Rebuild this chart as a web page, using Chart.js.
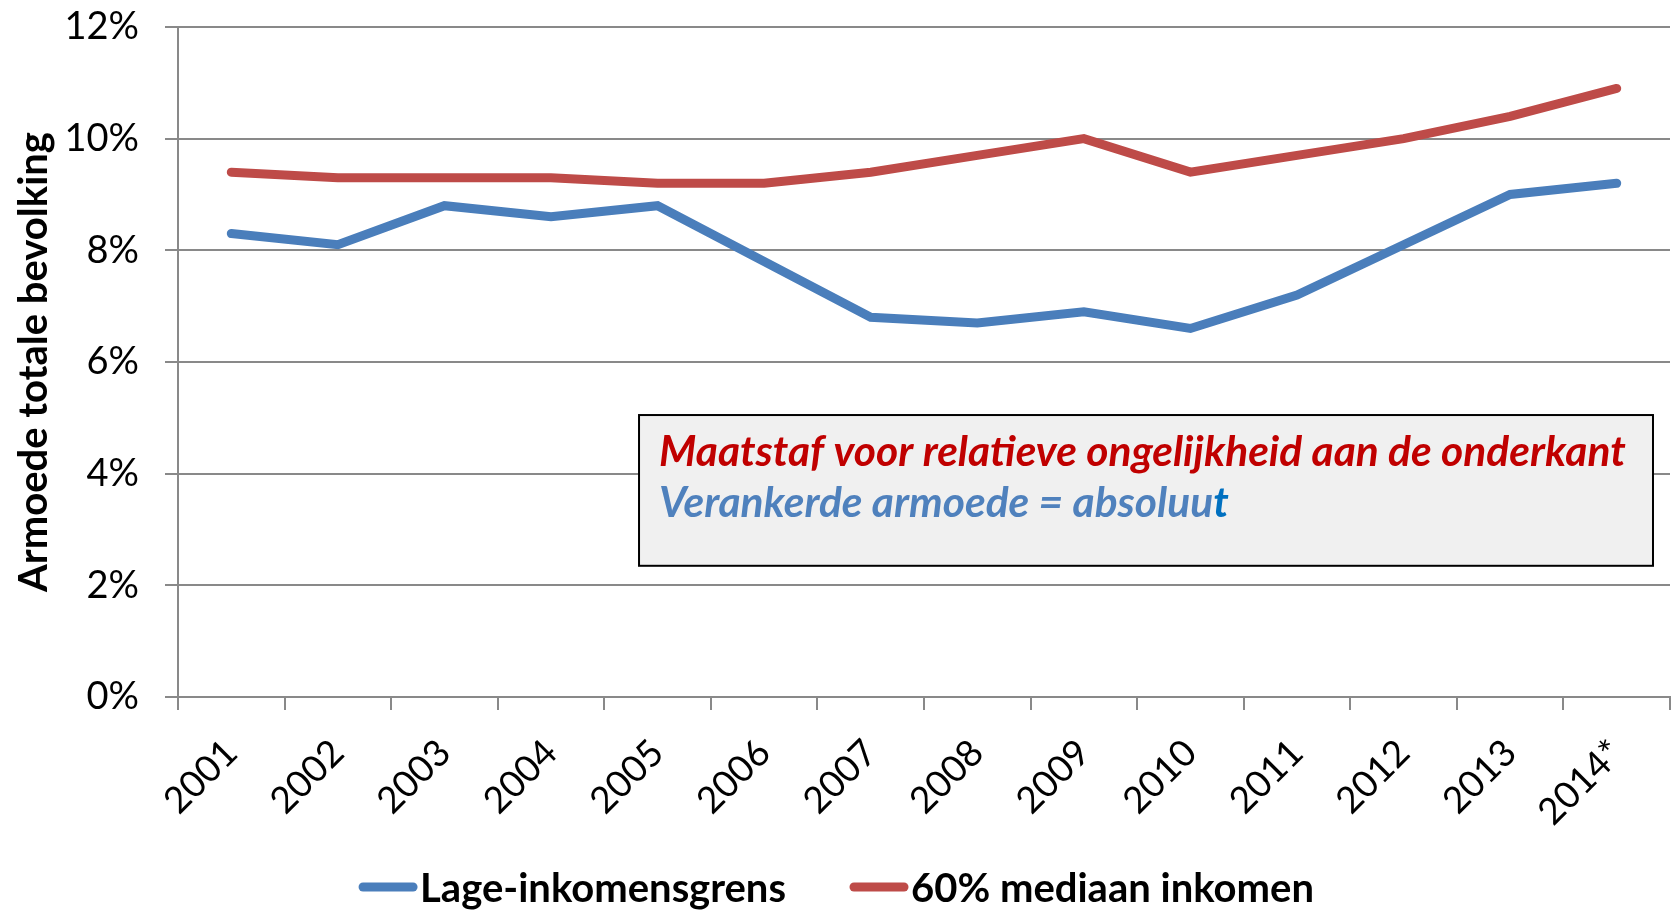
<!DOCTYPE html>
<html>
<head>
<meta charset="utf-8">
<script src="https://cdn.jsdelivr.net/npm/chart.js@4.4.0/dist/chart.umd.min.js"></script>
<style>
    html, body { margin: 0; padding: 0; background: #fff; }
    #wrap { width: 1673px; height: 911px; }
</style>
</head>
<body>
<div id="wrap"><canvas id="armoedeChart" width="1673" height="911"></canvas></div>
<script>
const years = ['2001', '2002', '2003', '2004', '2005', '2006', '2007', '2008', '2009', '2010', '2011', '2012', '2013', '2014*'];
const lageInkomensgrens = [8.3, 8.1, 8.8, 8.6, 8.8, 7.8, 6.8, 6.7, 6.9, 6.6, 7.2, 8.1, 9.0, 9.2];
const mediaanInkomen60 = [9.4, 9.3, 9.3, 9.3, 9.2, 9.2, 9.4, 9.7, 10.0, 9.4, 9.7, 10.0, 10.4, 10.9];
const seriesNames = ['Lage-inkomensgrens', '60% mediaan inkomen'];
const yMin = 0, yMax = 12, yStep = 2;
const axisTitle = 'Armoede totale bevolking';
const noteRed = 'Maatstaf voor relatieve ongelijkheid aan de onderkant';
const noteBlue = 'Verankerde armoede = absoluu';
const noteBlueEnd = 't';

const FONT = 'Lato';
const gridGrey = '#898989';

// grey box with the two coloured lines of explanation
const noteBox = {
    id: 'noteBox',
    afterDatasetsDraw(chart) {
        const { ctx, chartArea: a, scales: { y } } = chart;
        const left = a.left + a.width * 0.309;
        const right = a.left + a.width * 0.9886;
        const top = y.getPixelForValue(5.05);
        const bottom = y.getPixelForValue(2.35);
        ctx.save();
        ctx.fillStyle = '#f0f0f0';
        ctx.fillRect(left, top, right - left, bottom - top);
        ctx.strokeStyle = '#000';
        ctx.lineWidth = 2;
        ctx.strokeRect(left, top, right - left, bottom - top);

        ctx.font = 'italic bold 42.5px ' + FONT;
        ctx.textBaseline = 'middle';
        ctx.fillStyle = '#C00000';
        ctx.fillText(noteRed, left + 20, top + 37);
        ctx.fillStyle = '#4F81BD';
        ctx.fillText(noteBlue, left + 20, top + 88);
        const w = ctx.measureText(noteBlue).width;
        ctx.fillStyle = '#0070C0';
        ctx.fillText(noteBlueEnd, left + 20 + w, top + 88);
        ctx.restore();
    }
};

// legend at the bottom: short line followed directly by the label
const lineLegend = {
    id: 'lineLegend',
    afterDraw(chart) {
        const ctx = chart.ctx;
        const sets = chart.data.datasets;
        const lineLen = 58, gap = 3, spacing = 64, y = 887;
        ctx.save();
        ctx.font = 'bold 40px ' + FONT;
        ctx.textBaseline = 'middle';
        const widths = sets.map(ds => ctx.measureText(ds.label).width);
        const total = widths.reduce((s, w) => s + lineLen + gap + w, 0) + spacing * (sets.length - 1);
        let x = (chart.width - total) / 2;
        sets.forEach((ds, i) => {
            ctx.strokeStyle = ds.borderColor;
            ctx.lineWidth = 9;
            ctx.lineCap = 'round';
            ctx.beginPath();
            ctx.moveTo(x + 4, y);
            ctx.lineTo(x + lineLen - 4, y);
            ctx.stroke();
            x += lineLen + gap;
            ctx.fillStyle = '#000';
            ctx.fillText(ds.label, x, y + 2);
            x += widths[i] + spacing;
        });
        ctx.restore();
    }
};

new Chart(document.getElementById('armoedeChart'), {
    type: 'line',
    data: {
        labels: years,
        datasets: [{
            label: seriesNames[0],
            data: lageInkomensgrens,
            borderColor: '#4A7EBB',
            borderWidth: 9,
            borderCapStyle: 'round',
            pointRadius: 0,
            tension: 0
        }, {
            label: seriesNames[1],
            data: mediaanInkomen60,
            borderColor: '#BE4B48',
            borderWidth: 9,
            borderCapStyle: 'round',
            pointRadius: 0,
            tension: 0
        }]
    },
    options: {
        responsive: false,
        animation: false,
        layout: {
            padding: { top: 27, right: 3, left: 0, bottom: 0 }
        },
        plugins: {
            legend: { display: false },
            tooltip: { enabled: false }
        },
        scales: {
            x: {
                offset: true,
                grid: {
                    offset: true,
                    drawOnChartArea: false,
                    drawTicks: true,
                    tickLength: 13,
                    color: gridGrey,
                    lineWidth: 2
                },
                border: { color: gridGrey, width: 2 },
                ticks: {
                    minRotation: 45,
                    maxRotation: 45,
                    padding: 21,
                    color: '#000',
                    font: { family: FONT, size: 37 }
                },
                afterFit(scale) {
                    scale.height = 214;
                }
            },
            y: {
                min: yMin,
                max: yMax,
                ticks: {
                    stepSize: yStep,
                    padding: 26,
                    color: '#000',
                    font: { family: FONT, size: 38 },
                    callback: v => v + '%'
                },
                grid: {
                    color: gridGrey,
                    lineWidth: 2,
                    tickLength: 13
                },
                border: { color: gridGrey, width: 2 },
                title: {
                    display: true,
                    text: axisTitle,
                    color: '#000',
                    padding: { top: 10, bottom: 0 },
                    font: { family: FONT, size: 40, weight: 'bold' }
                },
                afterFit(scale) {
                    scale.width = 178;
                    // the label padding should not push the plot area down
                    scale.paddingTop = 0;
                    scale.paddingBottom = 0;
                }
            }
        }
    },
    plugins: [noteBox, lineLegend]
});
</script>
</body>
</html>
